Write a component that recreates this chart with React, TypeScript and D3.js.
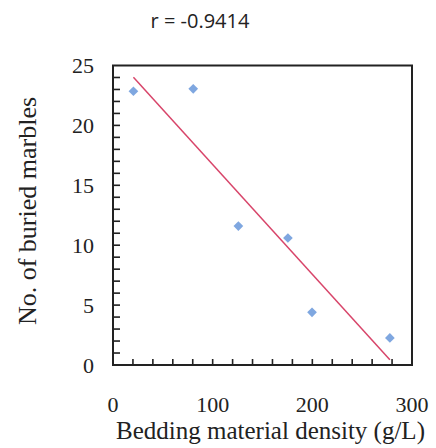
import React from "react";
import * as d3 from "d3";

const density = [20.5, 80.5, 125.8, 175.5, 199.7, 277.8];
const marbles = [22.85, 23.05, 11.6, 10.6, 4.4, 2.26];
const xTickLabels = [0, 100, 200, 300];
const yTickLabels = [0, 5, 10, 15, 20, 25];
const titleText = "r = -0.9414";
const xTitle = "Bedding material density (g/L)";
const yTitle = "No. of buried marbles";

export default function App() {
  const W = 436, H = 448;
  const L = 113, R = 412, T = 65.5, B = 365;
  const x = d3.scaleLinear().domain([0, 300]).range([L, R]);
  const y = d3.scaleLinear().domain([0, 25]).range([B, T]);

  const meanX = d3.mean(density) as number;
  const meanY = d3.mean(marbles) as number;
  let sxy = 0, sxx = 0;
  density.forEach((d, i) => {
    sxy += (d - meanX) * (marbles[i] - meanY);
    sxx += (d - meanX) * (d - meanX);
  });
  const slope = sxy / sxx;
  const icpt = meanY - slope * meanX;
  const [x0, x1] = d3.extent(density) as [number, number];
  const linePath = d3.line<number>().x((d) => x(d)).y((d) => y(icpt + slope * d))([x0, x1]) || "";

  const minorX = d3.range(20, 300, 20);
  const minorY = d3.range(1, 25, 1);
  const diamond = d3.symbol().type(d3.symbolDiamond2).size(60)() || "";
  const serif = "'Liberation Serif', 'Times New Roman', serif";

  return (
    <svg width={W} height={H} style={{ position: "absolute", left: 0, top: 0, background: "#fff" }}>
      <text x={200} y={28} textAnchor="middle" fontFamily="'Open Sans', 'Liberation Sans', sans-serif" fontSize={20} fill="#222">
        {titleText}
      </text>
      <g>
        {minorX.map((t) => (
          <rect key={"tx" + t} x={x(t) - 0.8} y={B - 6} width={1.6} height={6} fill="#222" />
        ))}
        {minorY.map((t) => (
          <rect key={"ty" + t} x={L} y={y(t) - 0.8} width={7} height={1.6} fill="#222" />
        ))}
      </g>
      <rect x={L} y={T} width={R - L} height={B - T} fill="none" stroke="#222" strokeWidth={2} />
      <path d={linePath} stroke="#d8456a" strokeWidth={1.5} fill="none" />
      {density.map((d, i) => (
        <path key={"p" + i} d={diamond} transform={`translate(${x(d)},${y(marbles[i])})`} fill="#7fa7e0" />
      ))}
      {yTickLabels.map((t) => (
        <text key={"yl" + t} x={94} y={y(t)} dy="0.35em" textAnchor="end" fontFamily={serif} fontSize={22} fill="#222">
          {t}
        </text>
      ))}
      {xTickLabels.map((t) => (
        <text key={"xl" + t} x={x(t)} y={412} textAnchor="middle" fontFamily={serif} fontSize={22} fill="#222">
          {t}
        </text>
      ))}
      <text x={(L + R) / 2 + 8} y={439} textAnchor="middle" fontFamily={serif} fontSize={25} fill="#222">
        {xTitle}
      </text>
      <text transform={`translate(36,${211}) rotate(-90)`} textAnchor="middle" fontFamily={serif} fontSize={26} fill="#222">
        {yTitle}
      </text>
    </svg>
  );
}
